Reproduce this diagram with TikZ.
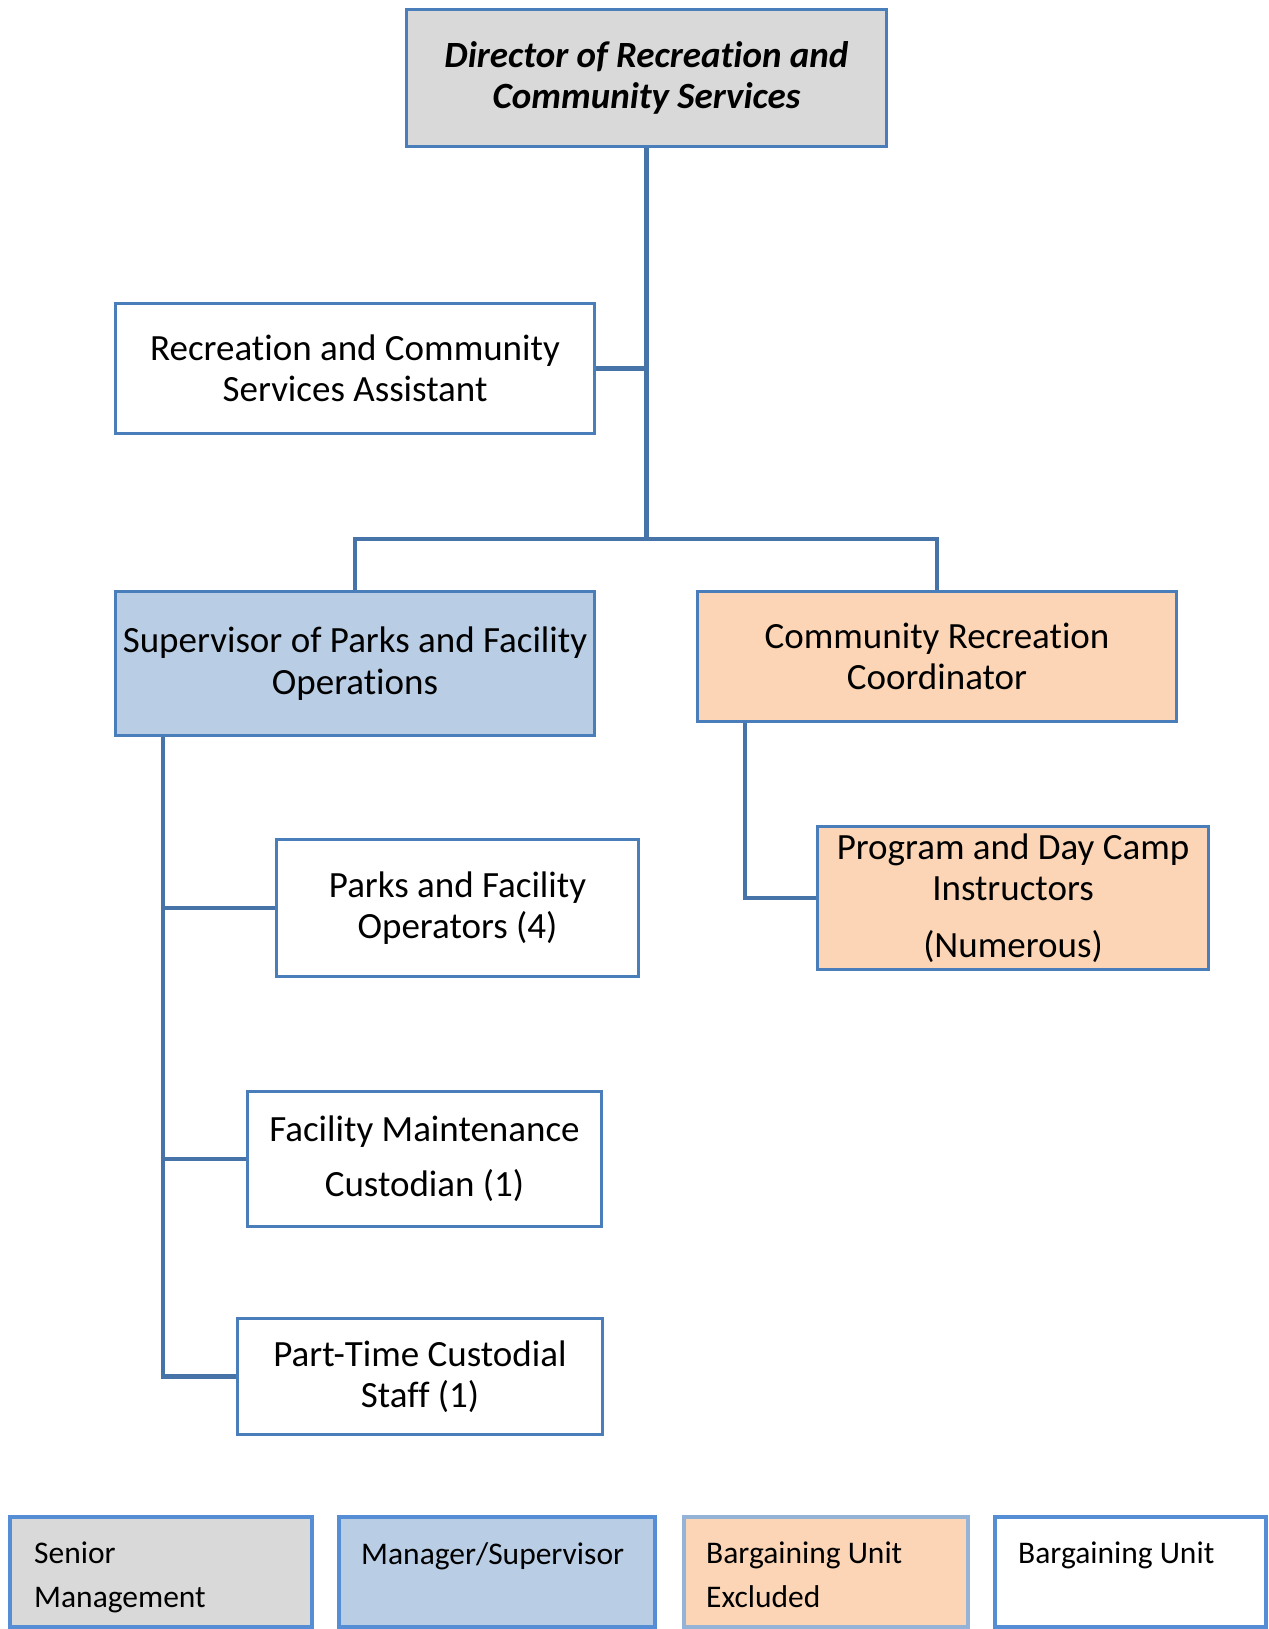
\documentclass[tikz,border=0pt]{standalone}
\usepackage{fontspec}
\setmainfont{Carlito}[Ligatures=NoCommon]
\definecolor{bord}{RGB}{74,126,187}
\definecolor{conn}{RGB}{70,116,168}
\definecolor{lgbord}{RGB}{85,142,213}
\definecolor{lgbordlight}{RGB}{149,179,215}
\definecolor{fgray}{RGB}{217,217,217}
\definecolor{fblue}{RGB}{185,205,229}
\definecolor{forange}{RGB}{251,213,181}
\begin{document}
\begin{tikzpicture}[x=1pt,y=-1pt,
  box/.style={draw=bord,line width=3.5pt,rectangle,inner sep=0pt,align=center,
    font=\fontsize{37}{41.5}\selectfont},
  conline/.style={draw=conn,line width=4.5pt},
  lgbox/.style={line width=4pt},
  lgtext/.style={anchor=north west,inner sep=0pt,align=left,
    font=\fontsize{31.5}{44}\selectfont}]
\useasboundingbox (0,0) rectangle (1268,1629);

% boxes
\node[box,fill=fgray,minimum width=480,minimum height=137] (dir) at (646.5,78)
  {\bfseries\itshape Director of Recreation and\\\bfseries\itshape Community Services};
\node[box,fill=white,minimum width=479,minimum height=130] (asst) at (355,368.5)
  {Recreation and Community\\Services Assistant};
\node[box,fill=fblue,minimum width=479,minimum height=144] (sup) at (355,663.5)
  {Supervisor of Parks and Facility\\Operations};
\node[box,fill=forange,minimum width=479,minimum height=130] (coord) at (937,656.5)
  {Community Recreation\\Coordinator};
\node[box,fill=forange,minimum width=391,minimum height=143] (prog) at (1013,898)
  {Program and Day Camp\\Instructors\\[15pt](Numerous)};
\node[box,fill=white,minimum width=362,minimum height=137] (ops) at (457.5,908)
  {Parks and Facility\\Operators (4)};
\node[box,fill=white,minimum width=354,minimum height=135] (maint) at (424.5,1159)
  {Facility Maintenance\\[13.5pt]Custodian (1)};
\node[box,fill=white,minimum width=365,minimum height=116] (pt) at (420,1376.5)
  {Part-Time Custodial\\Staff (1)};

% connectors
\coordinate (barmid) at (dir.south |- 0,539);
\coordinate (asstj) at (dir.south |- asst.east);
\draw[conline] (dir.south) -- (barmid);
\draw[conline] (asst.east) -- (asstj);
\draw[conline] (sup.north) |- (barmid) -| (coord.north);
\coordinate (supl) at ([xshift=49pt]sup.south west);
\draw[conline] (supl) |- (ops.west);
\draw[conline] (supl) |- (maint.west);
\draw[conline] (supl) |- (pt.west);
\coordinate (coordl) at ([xshift=49pt]coord.south west);
\draw[conline] (coordl) |- (prog.west);

% legend
\draw[lgbox,draw=lgbord,fill=fgray] (10,1517) rectangle (312,1627);
\draw[lgbox,draw=lgbord,fill=fblue] (339,1517) rectangle (655,1627);
\draw[lgbox,draw=lgbordlight,fill=forange] (684,1517) rectangle (968,1627);
\draw[lgbox,draw=lgbord,fill=white] (995,1517) rectangle (1266,1627);
\node[lgtext] (lg1) at (34,1542) {Senior\\Management};
\node[lgtext] (lg2) at (361,1542) {Manager/Supervisor};
\node[lgtext] (lg3) at (706,1542) {Bargaining Unit\\Excluded};
\node[lgtext] (lg4) at (1018,1542) {Bargaining Unit};
\end{tikzpicture}
\end{document}
